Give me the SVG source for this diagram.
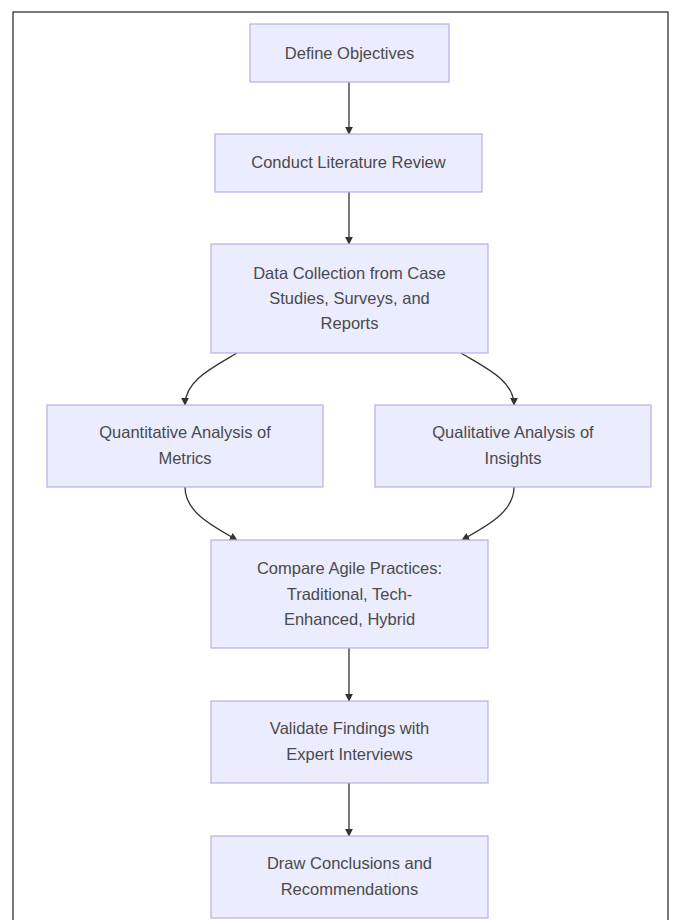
<svg xmlns="http://www.w3.org/2000/svg" width="675" height="920" viewBox="0 0 675 920">
<style>
.node rect{fill:#ECECFF;stroke:#b9aee2;stroke-width:1.2}
.node text{font-family:"Liberation Sans",Arial,sans-serif;font-size:16.5px;fill:#4a4a4a;text-anchor:middle;dominant-baseline:middle}
.edges path{fill:none;stroke:#333;stroke-width:1.3}
</style>
<defs>
<marker id="arr" viewBox="0 0 10 10" refX="9" refY="5" markerWidth="8" markerHeight="8" markerUnits="userSpaceOnUse" orient="auto">
<path d="M0,0 L10,5 L0,10 z" fill="#333"/>
</marker>
</defs>
<rect x="0" y="0" width="675" height="920" fill="#fff"/>
<rect x="13" y="12" width="655" height="915" fill="none" stroke="#222" stroke-width="1.2"/>
<g class="edges">
<path d="M349,82 V134" marker-end="url(#arr)"/>
<path d="M349,192 V244" marker-end="url(#arr)"/>
<path d="M237,353 C214,367 185,380 185,405" marker-end="url(#arr)"/>
<path d="M461,353 C484,367 514,380 514,405" marker-end="url(#arr)"/>
<path d="M185,487 C185,512 212,526 237,540" marker-end="url(#arr)"/>
<path d="M514,487 C514,512 487,526 462,540" marker-end="url(#arr)"/>
<path d="M349,648 V701" marker-end="url(#arr)"/>
<path d="M349,783 V836" marker-end="url(#arr)"/>
</g>
<g id="n1" class="node"><rect x="250" y="24" width="199" height="58"/><text x="349.5" y="55">Define Objectives</text></g>
<g id="n2" class="node"><rect x="215" y="134" width="267" height="58"/><text x="348.5" y="164">Conduct Literature Review</text></g>
<g id="n3" class="node"><rect x="211" y="244" width="277" height="109"/><text x="349.5" y="275">Data Collection from Case</text><text x="349.5" y="300">Studies, Surveys, and</text><text x="349.5" y="325">Reports</text></g>
<g id="n4" class="node"><rect x="47" y="405" width="276" height="82"/><text x="185" y="434">Quantitative Analysis of</text><text x="185" y="460">Metrics</text></g>
<g id="n5" class="node"><rect x="375" y="405" width="276" height="82"/><text x="513" y="434">Qualitative Analysis of</text><text x="513" y="460">Insights</text></g>
<g id="n6" class="node"><rect x="211" y="540" width="277" height="108"/><text x="349.5" y="570">Compare Agile Practices:</text><text x="349.5" y="596">Traditional, Tech-</text><text x="349.5" y="621">Enhanced, Hybrid</text></g>
<g id="n7" class="node"><rect x="211" y="701" width="277" height="82"/><text x="349.5" y="730">Validate Findings with</text><text x="349.5" y="756">Expert Interviews</text></g>
<g id="n8" class="node"><rect x="211" y="836" width="277" height="82"/><text x="349.5" y="865">Draw Conclusions and</text><text x="349.5" y="891">Recommendations</text></g>
</svg>
